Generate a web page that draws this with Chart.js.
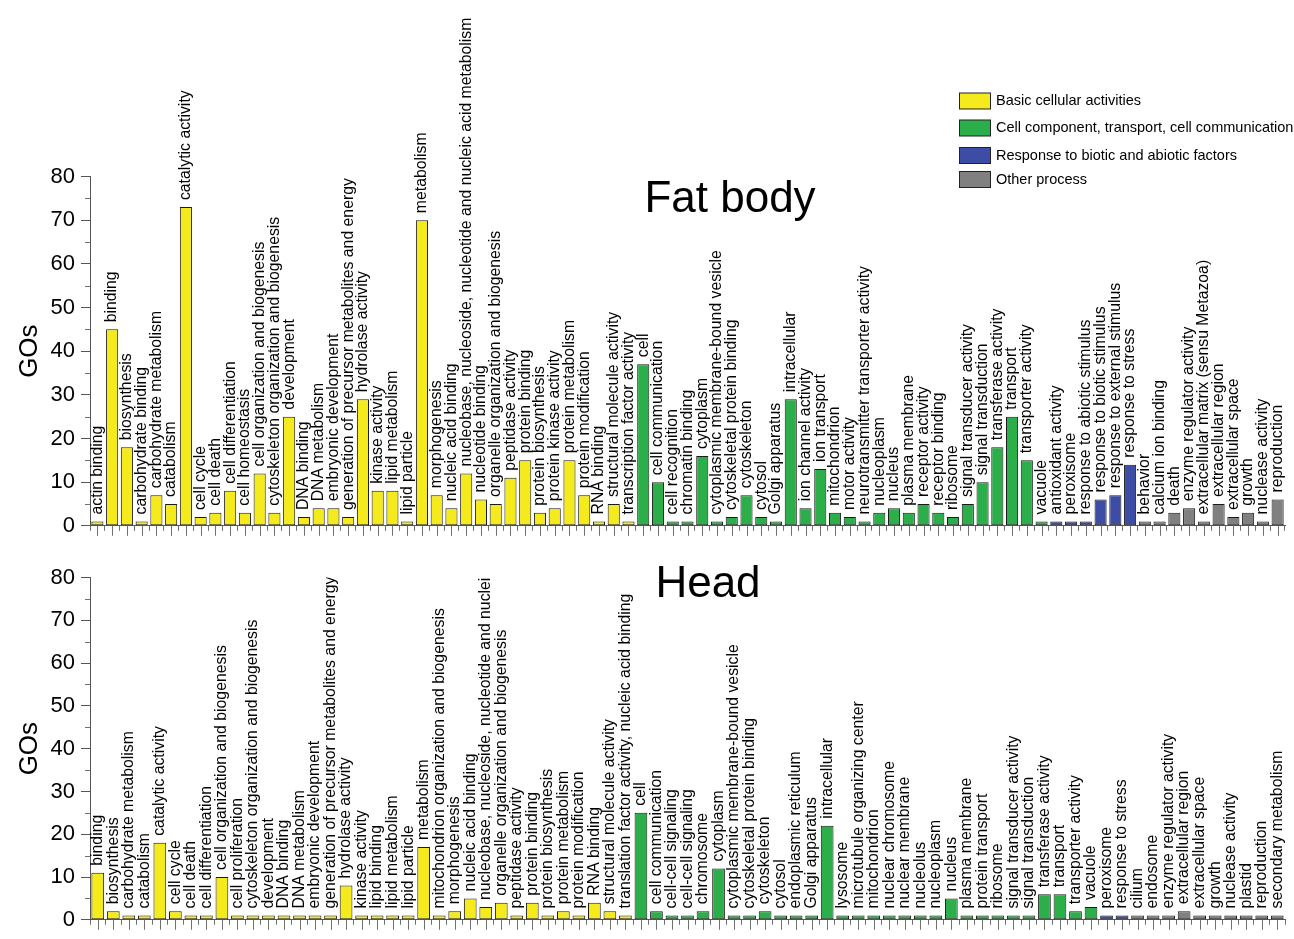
<!DOCTYPE html>
<html>
<head>
<meta charset="utf-8">
<script src="https://cdn.jsdelivr.net/npm/chart.js@4.4.1/dist/chart.umd.min.js"></script>
<style>
  html, body { margin: 0; padding: 0; background: #fff; }
  #wrap { position: relative; width: 1294px; height: 939px; }
  #fatChart { position: absolute; left: 0; top: 0; }
  #headChart { position: absolute; left: 0; top: 545px; }
</style>
</head>
<body>
<div id="wrap">
  <canvas id="fatChart" width="1294" height="545" style="width:1294px;height:545px"></canvas>
  <canvas id="headChart" width="1294" height="394" style="width:1294px;height:394px"></canvas>
</div>
<script>
const groupNames = ['Basic cellular activities', 'Cell component, transport, cell communication',
  'Response to biotic and abiotic factors', 'Other process'];
const groupColors = ['#F4EA1C', '#2CAE4A', '#3D4DA6', '#808080'];

// Fat body
const fatLabels = [
  'actin binding', 'binding', 'biosynthesis', 'carbohydrate binding', 'carbohydrate metabolism', 'catabolism',
  'catalytic activity', 'cell cycle', 'cell death', 'cell differentiation', 'cell homeostasis',
  'cell organization and biogenesis', 'cytoskeleton organization and biogenesis', 'development', 'DNA binding',
  'DNA metabolism', 'embryonic development', 'generation of precursor metabolites and energy', 'hydrolase activity',
  'kinase activity', 'lipid metabolism', 'lipid particle', 'metabolism', 'morphogenesis', 'nucleic acid binding',
  'nucleobase, nucleoside, nucleotide and nucleic acid metabolism', 'nucleotide binding',
  'organelle organization and biogenesis', 'peptidase activity', 'protein binding', 'protein biosynthesis',
  'protein kinase activity', 'protein metabolism', 'protein modification', 'RNA binding',
  'structural molecule activity', 'transcription factor activity',
  'cell', 'cell communication', 'cell recognition', 'chromatin binding', 'cytoplasm',
  'cytoplasmic membrane-bound vesicle', 'cytoskeletal protein binding', 'cytoskeleton', 'cytosol', 'Golgi apparatus',
  'intracellular', 'ion channel activity', 'ion transport', 'mitochondrion', 'motor activity',
  'neurotransmitter transporter activity', 'nucleoplasm', 'nucleus', 'plasma membrane', 'receptor activity',
  'receptor binding', 'ribosome', 'signal transducer activity', 'signal transduction', 'transferase activity',
  'transport', 'transporter activity', 'vacuole',
  'antioxidant activity', 'peroxisome', 'response to abiotic stimulus', 'response to biotic stimulus',
  'response to external stimulus', 'response to stress',
  'behavior', 'calcium ion binding', 'death', 'enzyme regulator activity', 'extracellular matrix (sensu Metazoa)',
  'extracellular region', 'extracellular space', 'growth', 'nuclease activity', 'reproduction'
];
const fatValues = [
  1, 45, 18, 1, 7, 5, 73, 2, 3, 8, 3, 12, 3, 25, 2, 4, 4, 2, 29, 8, 8, 1, 70, 7, 4, 12, 6, 5, 11, 15, 3, 4, 15, 7, 1, 5, 1,
  37, 10, 1, 1, 16, 1, 2, 7, 2, 1, 29, 4, 13, 3, 2, 1, 3, 4, 3, 5, 3, 2, 5, 10, 18, 25, 15, 1,
  1, 1, 1, 6, 7, 14,
  1, 1, 3, 4, 1, 5, 2, 3, 1, 6
];
const fatGroupCounts = [37, 28, 6, 10];

// Head
const headLabels = [
  'binding', 'biosynthesis', 'carbohydrate metabolism', 'catabolism', 'catalytic activity', 'cell cycle',
  'cell death', 'cell differentiation', 'cell organization and biogenesis', 'cell proliferation',
  'cytoskeleton organization and biogenesis', 'development', 'DNA binding', 'DNA metabolism',
  'embryonic development', 'generation of precursor metabolites and energy', 'hydrolase activity',
  'kinase activity', 'lipid binding', 'lipid metabolism', 'lipid particle', 'metabolism',
  'mitochondrion organization and biogenesis', 'morphogenesis', 'nucleic acid binding',
  'nucleobase, nucleoside, nucleotide and nucleic acid metabolism', 'organelle organization and biogenesis',
  'peptidase activity', 'protein binding', 'protein biosynthesis', 'protein metabolism', 'protein modification',
  'RNA binding', 'structural molecule activity', 'translation factor activity, nucleic acid binding',
  'cell', 'cell communication', 'cell-cell signaling', 'cell-cell signaling', 'chromosome', 'cytoplasm',
  'cytoplasmic membrane-bound vesicle', 'cytoskeletal protein binding', 'cytoskeleton', 'cytosol',
  'endoplasmic reticulum', 'Golgi apparatus', 'intracellular', 'lysosome', 'microtubule organizing center',
  'mitochondrion', 'nuclear chromosome', 'nuclear membrane', 'nucleolus', 'nucleoplasm', 'nucleus',
  'plasma membrane', 'protein transport', 'ribosome', 'signal transducer activity', 'signal transduction',
  'transferase activity', 'transport', 'transporter activity', 'vacuole',
  'peroxisome', 'response to stress',
  'cilium', 'endosome', 'enzyme regulator activity', 'extracellular region', 'extracellular space', 'growth',
  'nuclease activity', 'plastid', 'reproduction', 'secondary metabolism'
];
const headValues = [
  11, 2, 1, 1, 18, 2, 1, 1, 10, 1, 1, 1, 1, 1, 1, 1, 8, 1, 1, 1, 1, 17, 1, 2, 5, 3, 4, 1, 4, 1, 2, 1, 4, 2, 1,
  25, 2, 1, 1, 2, 12, 1, 1, 2, 1, 1, 1, 22, 1, 1, 1, 1, 1, 1, 1, 5, 1, 1, 1, 1, 1, 6, 6, 2, 3,
  1, 1,
  1, 1, 1, 2, 1, 1, 1, 1, 1, 1
];
const headGroupCounts = [35, 30, 2, 10];

const FONT = 'Arial, "Liberation Sans", sans-serif';
Chart.defaults.font.family = FONT;
Chart.defaults.color = '#000';

// vertical labels sitting on top of every bar
const barLabels = {
  id: 'barLabels',
  afterDatasetsDraw(chart, args, opts) {
    const ctx = chart.ctx;
    const area = chart.chartArea;
    const meta = chart.getDatasetMeta(0);
    ctx.save();
    if (opts.clipTop) {
      ctx.beginPath();
      ctx.rect(0, area.top, chart.width, chart.height - area.top);
      ctx.clip();
    }
    ctx.font = '15.8px ' + FONT;
    ctx.fillStyle = '#000';
    ctx.textAlign = 'left';
    ctx.textBaseline = 'middle';
    meta.data.forEach((bar, i) => {
      ctx.save();
      ctx.translate(bar.x, bar.y - 7);
      ctx.rotate(-Math.PI / 2);
      ctx.fillText(chart.data.labels[i], 0, 0);
      ctx.restore();
    });
    ctx.restore();
  }
};

// long ticks under bar centres and minor ticks on the y axis
const extraTicks = {
  id: 'extraTicks',
  afterDraw(chart) {
    const ctx = chart.ctx;
    const x = chart.scales.x;
    const y = chart.scales.y;
    ctx.save();
    ctx.strokeStyle = '#707070';
    ctx.lineWidth = 1;
    ctx.beginPath();
    for (let i = 0; i < chart.data.labels.length; i++) {
      const px = Math.round(x.getPixelForValue(i)) + 0.5;
      ctx.moveTo(px, x.top);
      ctx.lineTo(px, x.top + 10);
    }
    for (let v = 5; v < 80; v += 10) {
      const py = Math.round(y.getPixelForValue(v)) + 0.5;
      ctx.moveTo(y.right - 5, py);
      ctx.lineTo(y.right, py);
    }
    ctx.stroke();
    ctx.restore();
  }
};

// panel title and legend
const panelText = {
  id: 'panelText',
  afterDraw(chart, args, opts) {
    const ctx = chart.ctx;
    ctx.save();
    ctx.fillStyle = '#000';
    ctx.font = '44px ' + FONT;
    ctx.textAlign = 'center';
    ctx.textBaseline = 'alphabetic';
    ctx.fillText(opts.title, opts.titleX, opts.titleY);
    if (opts.legendRows) {
      ctx.font = '14.5px ' + FONT;
      ctx.textAlign = 'left';
      ctx.textBaseline = 'middle';
      groupNames.forEach((name, g) => {
        const cy = opts.legendRows[g];
        ctx.fillStyle = groupColors[g];
        ctx.fillRect(959.5, cy - 8, 31, 16);
        ctx.strokeStyle = '#222';
        ctx.lineWidth = 1;
        ctx.strokeRect(959.5, cy - 8, 31, 16);
        ctx.fillStyle = '#000';
        ctx.fillText(name, 996, cy);
      });
    }
    ctx.restore();
  }
};

function groupColorList(counts) {
  const colors = [];
  counts.forEach((n, g) => {
    for (let k = 0; k < n; k++) colors.push(groupColors[g]);
  });
  return colors;
}

function makeChart(canvasId, labels, values, counts, layout, textOpts, clipTop) {
  return new Chart(document.getElementById(canvasId), {
    type: 'bar',
    data: {
      labels: labels,
      datasets: [{
        data: values,
        backgroundColor: groupColorList(counts),
        borderColor: '#1a1a1a',
        borderWidth: 1,
        borderSkipped: false,
        categoryPercentage: 1,
        barPercentage: 0.82
      }]
    },
    options: {
      responsive: false,
      animation: false,
      layout: { padding: { top: layout.top, right: 9, bottom: 0, left: 0 } },
      plugins: {
        legend: { display: false },
        tooltip: { enabled: false },
        barLabels: { clipTop: clipTop },
        panelText: textOpts
      },
      scales: {
        x: {
          grid: { offset: true, drawOnChartArea: false, drawTicks: true, tickLength: 5, tickColor: '#707070' },
          border: { color: '#555' },
          ticks: { display: false },
          afterFit(scale) { scale.height = layout.xHeight; }
        },
        y: {
          min: 0,
          max: 80,
          ticks: { stepSize: 10, autoSkip: false, padding: 6, font: { size: 22 }, color: '#000' },
          grid: { drawOnChartArea: false, tickLength: 9, tickColor: '#555' },
          border: { color: '#555' },
          title: { display: true, text: 'GOs', font: { size: 26 }, padding: { top: 14, bottom: 0 } },
          afterFit(scale) { scale.width = 90; }
        }
      }
    },
    plugins: [barLabels, extraTicks, panelText]
  });
}

makeChart('fatChart', fatLabels, fatValues, fatGroupCounts,
  { top: 176.5, xHeight: 17.5 },
  { title: 'Fat body', titleX: 730, titleY: 212, legendRows: [101, 128, 155.5, 179.5] }, false);

makeChart('headChart', headLabels, headValues, headGroupCounts,
  { top: 32.5, xHeight: 10.5 },
  { title: 'Head', titleX: 708, titleY: 52 }, true);
</script>
</body>
</html>
